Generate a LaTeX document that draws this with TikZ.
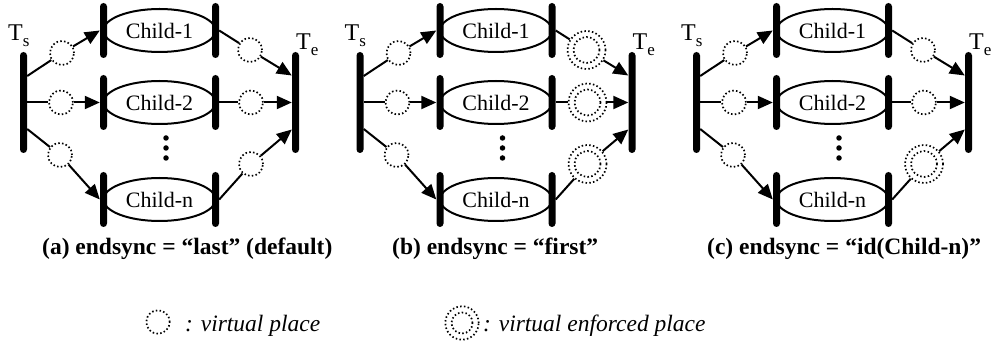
\documentclass[tikz,border=0pt]{standalone}
\usepackage{fontspec}
\setmainfont{Liberation Serif}
\usetikzlibrary{shapes.geometric,arrows.meta}
\newcommand\childfont{\fontsize{22pt}{24pt}\selectfont}
\newcommand\tfont{\fontsize{24pt}{26pt}\selectfont}
\newcommand\subfont{\fontsize{17pt}{18pt}\selectfont}
\newcommand\capfont{\bfseries\fontsize{23.5pt}{26pt}\selectfont}
\newcommand\legfont{\itshape\fontsize{23.5pt}{26pt}\selectfont}
\tikzset{
  tbar/.style={fill=black, rounded corners=3.5pt, inner sep=0pt, minimum width=7pt, draw=none},
  endbar/.style={tbar, minimum height=101pt},
  chbar/.style={tbar, minimum height=55pt},
  child/.style={ellipse, draw, line width=2pt, minimum width=112pt, minimum height=43pt, inner sep=0pt, font=\childfont},
  dotline/.style={line width=1.7pt, dash pattern=on 1.5pt off 2.3pt},
  vp/.style={circle, draw, dotline, fill=white, minimum size=24pt, inner sep=0pt},
  vep/.style={vp, minimum size=38pt, path picture={\draw[dotline] (path picture bounding box.center) circle (13pt);}},
  lvep/.style={vp, minimum size=33.4pt, path picture={\draw[dotline] (path picture bounding box.center) circle (10.5pt);}},
  arc/.style={line width=2pt},
  arr/.style={arc, -{Triangle[length=15pt,width=13pt]}},
  dotmark/.style={circle, fill=black, inner sep=0pt, minimum size=5.5pt},
  tlabel/.style={anchor=base west, inner sep=0pt, font=\tfont},
  caption/.style={anchor=base west, inner sep=0pt, font=\capfont},
  legtext/.style={anchor=base west, inner sep=0pt, font=\legfont},
}
% #1 xshift, #2 suffix, #3 #4 #5 styles of right places
\newcommand\drawpanel[5]{%
\begin{scope}[xshift=#1]
  \node[child] (c1#2) at (159.5,30.5) {Child-1};
  \node[child] (c2#2) at (159.5,102.5) {Child-2};
  \node[child] (cn#2) at (159.5,199.5) {Child-n};
  \node[chbar] (c1l#2) at (103.5,30.5) {};
  \node[chbar] (c1r#2) at (215.5,30.5) {};
  \node[chbar] (c2l#2) at (103.5,102.5) {};
  \node[chbar] (c2r#2) at (215.5,102.5) {};
  \node[chbar] (cnl#2) at (103.5,199.5) {};
  \node[chbar] (cnr#2) at (215.5,199.5) {};
  \node[endbar] (ts#2) at (23.5,102.5) {};
  \node[endbar] (te#2) at (295.5,102.5) {};
  \node[tlabel] (tsl#2) at (8,41) {T\raisebox{-6pt}{\subfont s}};
  \node[tlabel] (tel#2) at (296,50) {T\raisebox{-6pt}{\subfont e}};
  \node[dotmark] (da#2) at (166,138) {};
  \node[dotmark] (db#2) at (166,148) {};
  \node[dotmark] (dc#2) at (166,158) {};
  \node[vp] (p1#2) at (62,53) {};
  \node[vp] (p2#2) at (61,102.5) {};
  \node[vp] (p3#2) at (60,155) {};
  \node[#3] (q1#2) at (250,50) {};
  \node[#4] (q2#2) at (251,102.5) {};
  \node[#5] (q3#2) at (251,164) {};
  \draw[arc] ([yshift=26.5pt]ts#2.east) -- (p1#2);
  \draw[arr] (p1#2) -- (c1l#2.west);
  \draw[arc] (ts#2.east) -- (p2#2);
  \draw[arr] (p2#2) -- (c2l#2.west);
  \draw[arc] ([yshift=-26.5pt]ts#2.east) -- (p3#2);
  \draw[arr] (p3#2) -- (cnl#2.west);
  \draw[arc] (c1r#2.east) -- (q1#2);
  \draw[arr] (q1#2) -- ([yshift=27pt]te#2.west);
  \draw[arc] (c2r#2.east) -- (q2#2);
  \draw[arr] (q2#2) -- (te#2.west);
  \draw[arc] (cnr#2.east) -- (q3#2);
  \draw[arr] (q3#2) -- ([yshift=-27pt]te#2.west);
\end{scope}}
\begin{document}
\begin{tikzpicture}[x=1pt,y=-1pt]
  \useasboundingbox (0,0) rectangle (994,352);
  \drawpanel{0pt}{a}{vp}{vp}{vp}
  \drawpanel{336.5pt}{b}{vep}{vep}{vep}
  \drawpanel{673pt}{c}{vp}{vp}{vep}
  \node[caption] (capa) at (42,255) {(a) endsync = “last” (default)};
  \node[caption] (capb) at (392,255) {(b) endsync = “first”};
  \node[caption] (capc) at (707,255) {(c) endsync = “id(Child-n)”};
  \node[vp, minimum size=23.4pt] (lg1) at (158,322) {};
  \node[legtext] (lt1) at (185,331.5) {: virtual place};
  \node[lvep] (lg2) at (462,323) {};
  \node[legtext] (lt2) at (483,331.5) {: virtual enforced place};
\end{tikzpicture}
\end{document}
